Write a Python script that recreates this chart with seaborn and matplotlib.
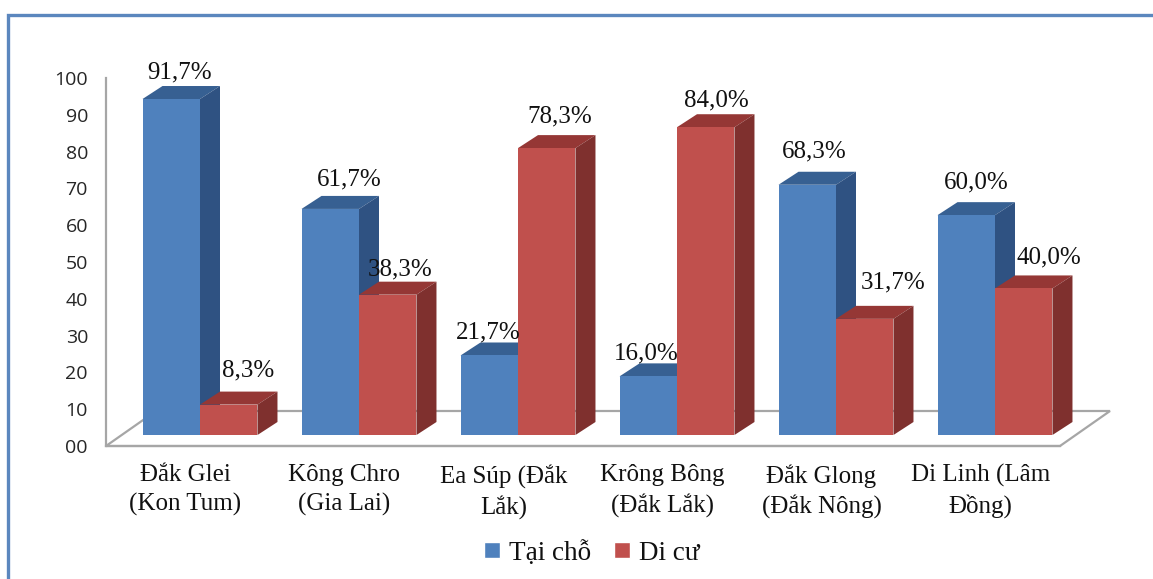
import matplotlib
matplotlib.use("Agg")
import matplotlib.pyplot as plt
from matplotlib.patches import Polygon, Rectangle
import pandas as pd
import seaborn as sns

# Survey shares per district
districts = ["Đắk Glei\n(Kon Tum)", "Kông Chro\n(Gia Lai)", "Ea Súp (Đắk\nLắk)",
             "Krông Bông\n(Đắk Lắk)", "Đắk Glong\n(Đắk Nông)", "Di Linh (Lâm\nĐồng)"]
tai_cho = [91.7, 61.7, 21.7, 16.0, 68.3, 60.0]
di_cu = [8.3, 38.3, 78.3, 84.0, 31.7, 40.0]
series_names = ["Tại chỗ", "Di cư"]
y_ticks = [0, 10, 20, 30, 40, 50, 60, 70, 80, 90, 100]
y_tick_labels = ["00", "10", "20", "30", "40", "50", "60", "70", "80", "90", "100"]

# Label nudges in pixels, relative to each bar's front top centre
label_dx = [[8, 19, -1, -2, 7, 10], [19, 12, 13, 11, 28, 25]]
label_dy = [[27, 29, 23, 23, 33, 33], [34, 25, 32, 27, 36, 31]]

W, H = 1153, 579
sns.set_theme(style="white")
plt.rcParams["font.family"] = ["Liberation Serif", "DejaVu Sans"]
fig = plt.figure(figsize=(W / 100, H / 100), dpi=100, facecolor="white")


def axes_px(left, top, right, bottom, **kw):
    return fig.add_axes([left / W, 1 - bottom / H, (right - left) / W, (bottom - top) / H], **kw)


# Outer chart frame, running off the right and bottom edges
fig.add_artist(Rectangle((7.5 / W, -0.02), 1.05, 1.02 - 15 / H,
                         transform=fig.transFigure, fill=False, ec="#5B87BE", lw=2.4))

# Axis frame: the nearest edge of the floor and the value axis
frame = axes_px(106, 78, 1060, 446)
frame.set_xlim(-0.5, 5.5)
frame.set_ylim(0, 100)
frame.patch.set_visible(False)
for side in ("top", "right"):
    frame.spines[side].set_visible(False)
for side in ("left", "bottom"):
    frame.spines[side].set_color("#A6A6A6")
    frame.spines[side].set_linewidth(1.6)
frame.set_xticks(range(len(districts)))
frame.set_xticklabels(districts, fontsize=18, color="#111111", linespacing=1.36)
frame.set_yticks(y_ticks)
frame.set_yticklabels(y_tick_labels, fontsize=14, family="Open Sans", color="#262626")
frame.tick_params(axis="x", length=0, pad=13)
frame.tick_params(axis="y", length=0, pad=13)

# Floor parallelogram, expressed in the frame's own scales
cat_px = 954 / 6
val_px = 368 / 100
floor_dx, floor_dy = 50 / cat_px, 35 / val_px
frame.add_patch(Polygon([(-0.5, 0), (-0.5 + floor_dx, floor_dy), (5.5 + floor_dx, floor_dy), (5.5, 0)],
                        closed=True, fc="white", ec="#A6A6A6", lw=1.6, clip_on=False, zorder=1))

# Front faces of the bars
bars_ax = axes_px(120.5, 68.6, 1074.5, 435)
bars_ax.patch.set_visible(False)
table = pd.DataFrame({
    "district": districts * 2,
    "series": [series_names[0]] * 6 + [series_names[1]] * 6,
    "value": tai_cho + di_cu,
})
front = {series_names[0]: "#4F81BD", series_names[1]: "#C0504D"}
top_col = ["#376092", "#953735"]
side_col = ["#2F5282", "#7F302E"]
sns.barplot(data=table, x="district", y="value", hue="series", hue_order=series_names,
            palette=front, saturation=1, width=0.723, gap=0, dodge=True, linewidth=0,
            errorbar=None, legend=False, ax=bars_ax, zorder=4)
bars_ax.set_xlim(-0.5, 5.5)
bars_ax.set_ylim(0, 100)
bars_ax.axis("off")

# Extruded top and side faces, taken from the drawn bars
depth_x, depth_y = 20 / cat_px, 13 / 3.664
for s, container in enumerate(bars_ax.containers):
    for patch in container:
        x0, x1 = patch.get_x(), patch.get_x() + patch.get_width()
        h = patch.get_height()
        bars_ax.add_patch(Polygon([(x0, h), (x0 + depth_x, h + depth_y), (x1 + depth_x, h + depth_y), (x1, h)],
                                  closed=True, fc=top_col[s], ec="none", clip_on=False, zorder=2 + s * 0.5))
        bars_ax.add_patch(Polygon([(x1, 0), (x1 + depth_x, depth_y), (x1 + depth_x, h + depth_y), (x1, h)],
                                  closed=True, fc=side_col[s], ec="none", clip_on=False, zorder=2 + s * 0.5))

# Percentage labels with a decimal comma
for s, container in enumerate(bars_ax.containers):
    for i, patch in enumerate(container):
        txt = f"{patch.get_height():.1f}".replace(".", ",") + "%"
        bars_ax.annotate(txt, (patch.get_x() + patch.get_width() / 2, patch.get_height()),
                         xytext=(label_dx[s][i], label_dy[s][i]), textcoords="offset pixels",
                         ha="center", va="center", fontsize=18, color="#111111",
                         annotation_clip=False, zorder=6)

# Legend
handles = [Rectangle((0, 0), 1, 1, fc=front[n]) for n in series_names]
fig.legend(handles, series_names, loc="center", bbox_to_anchor=(592 / W, 1 - 553 / H),
           ncol=2, frameon=False, fontsize=19.5, handlelength=0.58, handleheight=0.58,
           handletextpad=0.34, columnspacing=0.85, labelcolor="#111111")

fig.savefig("out.png", dpi=100)
